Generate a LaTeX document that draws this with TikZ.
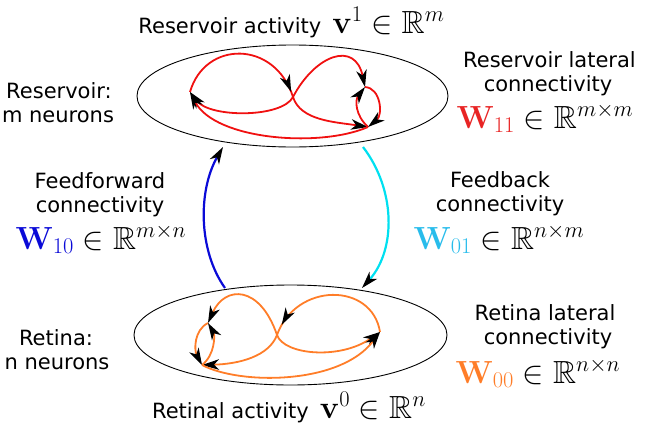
\documentclass[tikz,border=0pt]{standalone}
\usepackage{fix-cm}
\usepackage{amssymb}
\usepackage[no-math]{fontspec}
\setmainfont{DejaVu Sans}
\usetikzlibrary{arrows.meta,decorations.markings,shapes.geometric}
\definecolor{cRed}{RGB}{240,16,16}
\definecolor{cRedT}{RGB}{232,36,36}
\definecolor{cOr}{RGB}{255,125,40}
\definecolor{cBlue}{RGB}{10,10,215}
\definecolor{cCyan}{RGB}{0,224,240}
\definecolor{cCyanT}{RGB}{40,188,235}
\newcommand{\MthSize}{\fontsize{32}{38}\selectfont}
\tikzset{
  lbl/.style={font=\fontsize{21}{25}\selectfont, anchor=base, inner sep=0pt},
  mth/.style={font=\MthSize, anchor=base, inner sep=0pt},
  layer/.style={draw=black, line width=0.9pt, ellipse, inner sep=0pt},
  >={Stealth[length=17pt,width=10.5pt,inset=5pt,black]},
  midarr/.style={postaction={decorate}, decoration={markings, mark=at position #1 with {\arrow{>}}}},
  redln/.style={draw=cRed, line width=1.8pt},
  orln/.style={draw=cOr, line width=1.8pt},
  ffw/.style={draw=cBlue, line width=2.2pt},
  fbk/.style={draw=cCyan, line width=2.2pt}
}
\begin{document}
\begin{tikzpicture}[x=1pt,y=-1pt]
\useasboundingbox (0,0) rectangle (645,431);
% layers
\node[layer, minimum width=311pt, minimum height=102pt] (res) at (292.5,96) {};
\node[layer, minimum width=313pt, minimum height=100pt] (ret) at (290.5,335) {};
% reservoir neurons
\coordinate (rA) at (190,92);
\coordinate (rX) at (293,97);
\coordinate (rB) at (365,87);
\coordinate (rC) at (368,127);
\draw[redln, midarr=0.6, ->] (rA) .. controls (205,40) and (275,40) .. (rX) .. controls (300.5,120.7) and (335,122) .. (rC);
\draw[redln, <->] (rA) .. controls (210,118) and (282,118) .. (rX) .. controls (315,55) and (355,40) .. (rB);
\draw[redln, ->] (rC) .. controls (320,148) and (215,140) .. (rA);
\draw[redln, ->] (rC) .. controls (355,115) and (355,100) .. (rB);
\draw[redln, ->] (rB) .. controls (381,88) and (383,115) .. (rC);
% retina neurons
\coordinate (oD) at (208,323);
\coordinate (oE) at (202,365);
\coordinate (oX) at (277,335);
\coordinate (oF) at (380,332);
\draw[orln, midarr=0.57, ->] (oF) .. controls (372,282) and (296,282) .. (oX) .. controls (269,356) and (240,364) .. (oE);
\draw[orln, <->] (oD) .. controls (225,285) and (260,285) .. (oX) .. controls (284,355) and (340,360) .. (oF);
\draw[orln, ->] (oE) .. controls (240,385) and (340,385) .. (oF);
\draw[orln, ->] (oD) .. controls (194,330) and (194,350) .. (oE);
\draw[orln, ->] (oE) .. controls (215,355) and (215,335) .. (oD);
% feedforward / feedback
\coordinate (ffS) at (225,288);
\coordinate (ffE) at (223,147);
\coordinate (fbS) at (363,147);
\coordinate (fbE) at (362,288);
\draw[ffw, ->] (ffS) .. controls (198,250) and (198,190) .. (ffE);
\draw[fbk, ->] (fbS) .. controls (396,190) and (396,250) .. (fbE);
% texts
\node[lbl] (t1) at (291.5,33) {Reservoir activity\hspace{11pt}{\MthSize$\mathbf{v}^1 \in \mathbb{R}^m$}};
\node[lbl] (rs1) at (59,98) {Reservoir:};
\node[lbl] (rs2) at (58,122) {m neurons};
\node[lbl] (rl1) at (549.5,67) {Reservoir lateral};
\node[lbl] (rl2) at (548,91) {connectivity};
\node[mth] (w11) at (545,128) {$\color{cRedT}\mathbf{W}_{11}\color{black} \in \mathbb{R}^{m\times m}$};
\node[lbl] (ff1) at (100,188) {Feedforward};
\node[lbl] (ff2) at (100,212) {connectivity};
\node[mth] (w10) at (101,249) {$\color{cBlue}\mathbf{W}_{10}\color{black} \in \mathbb{R}^{m\times n}$};
\node[lbl] (fb1) at (500,187) {Feedback};
\node[lbl] (fb2) at (500,211) {connectivity};
\node[mth] (w01) at (499,249) {$\color{cCyanT}\mathbf{W}_{01}\color{black} \in \mathbb{R}^{n\times m}$};
\node[lbl] (rt1) at (56,345) {Retina:};
\node[lbl] (rt2) at (57,369) {n neurons};
\node[lbl] (tl1) at (545,320) {Retina lateral};
\node[lbl] (tl2) at (548,344) {connectivity};
\node[mth] (w00) at (538,383) {$\color{cOr}\mathbf{W}_{00}\color{black} \in \mathbb{R}^{n\times n}$};
\node[lbl] (t2) at (289,418) {Retinal activity\hspace{11pt}{\MthSize$\mathbf{v}^0 \in \mathbb{R}^n$}};
\end{tikzpicture}
\end{document}
